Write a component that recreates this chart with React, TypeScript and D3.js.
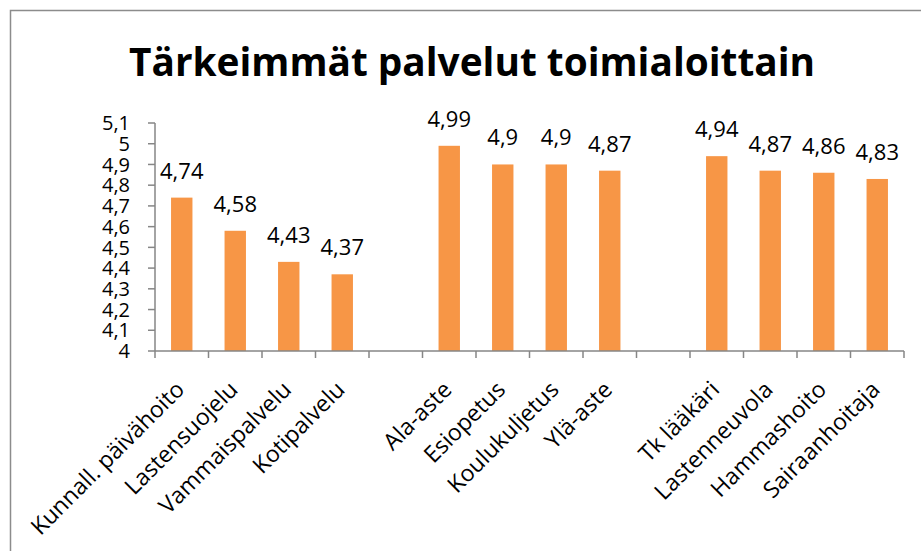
import React from "react";
import * as d3 from "d3";

const categories = [
  "Kunnall. päivähoito", "Lastensuojelu", "Vammaispalvelu", "Kotipalvelu", "",
  "Ala-aste", "Esiopetus", "Koulukuljetus", "Ylä-aste", "",
  "Tk lääkäri", "Lastenneuvola", "Hammashoito", "Sairaanhoitaja",
];
const values: (number | null)[] = [
  4.74, 4.58, 4.43, 4.37, null,
  4.99, 4.9, 4.9, 4.87, null,
  4.94, 4.87, 4.86, 4.83,
];
const yTicks = [4, 4.1, 4.2, 4.3, 4.4, 4.5, 4.6, 4.7, 4.8, 4.9, 5, 5.1];
const title = "Tärkeimmät palvelut toimialoittain";

const W = 921, H = 551;
const FONT = "'Open Sans', 'Noto Sans', sans-serif";
const fmt = (v: number) => String(Math.round(v * 100) / 100).replace(".", ",");

export default function App() {
  const keys = categories.map((c, i) => `${i}`);
  const x = d3.scaleBand<string>().domain(keys).range([155, 904]).padding(0);
  const y = d3.scaleLinear().domain([4, 5.1]).range([351, 123]);
  const bw = x.bandwidth();
  const barW = bw * 0.4;
  const axisColor = "#868686";
  const boundaries = d3.range(keys.length + 1).map((i) => 155 + i * bw);

  return (
    <svg width={W} height={H} style={{ position: "absolute", left: 0, top: 0, background: "#fff" }}>
      <rect x={0} y={0} width={W} height={H} fill="#fff" />
      <rect x={10.5} y={10.5} width={1000} height={1000} fill="none" stroke="#8c8c8c" strokeWidth={1.5} />
      <text x={472} y={76} textAnchor="middle" fontFamily={FONT} fontWeight="bold" fontSize={40}
        textLength={686} lengthAdjust="spacingAndGlyphs" fill="#000">{title}</text>

      {/* bars */}
      {values.map((v, i) =>
        v == null ? null : (
          <rect key={i} x={(x(keys[i]) as number) + (bw - barW) / 2} y={y(v)} width={barW}
            height={y(4) - y(v)} fill="#F79646" />
        )
      )}
      {/* value labels */}
      {values.map((v, i) =>
        v == null ? null : (
          <text key={"v" + i} x={(x(keys[i]) as number) + bw / 2} y={y(v) - 19} textAnchor="middle"
            fontFamily={FONT} fontSize={22} fill="#000">{fmt(v)}</text>
        )
      )}

      {/* y axis */}
      <line x1={155} x2={155} y1={y(5.1)} y2={y(4)} stroke={axisColor} strokeWidth={1.5} />
      {yTicks.map((t) => (
        <g key={t}>
          <line x1={148} x2={155} y1={y(t)} y2={y(t)} stroke={axisColor} strokeWidth={1.5} />
          <text x={130} y={y(t)} dy="0.36em" textAnchor="end" fontFamily={FONT} fontSize={20} fill="#000">
            {fmt(t)}
          </text>
        </g>
      ))}

      {/* x axis */}
      <line x1={155} x2={904} y1={y(4)} y2={y(4)} stroke={axisColor} strokeWidth={1.5} />
      {boundaries.map((b, i) => (
        <line key={"t" + i} x1={b} x2={b} y1={y(4)} y2={y(4) + 7} stroke={axisColor} strokeWidth={1.5} />
      ))}
      {categories.map((c, i) => {
        if (!c) return null;
        const cx = (x(keys[i]) as number) + bw / 2 + 4;
        const cy = 391;
        return (
          <text key={"c" + i} transform={`translate(${cx},${cy}) rotate(-45)`} textAnchor="end"
            fontFamily={FONT} fontSize={23} fill="#000">{c}</text>
        );
      })}
    </svg>
  );
}
